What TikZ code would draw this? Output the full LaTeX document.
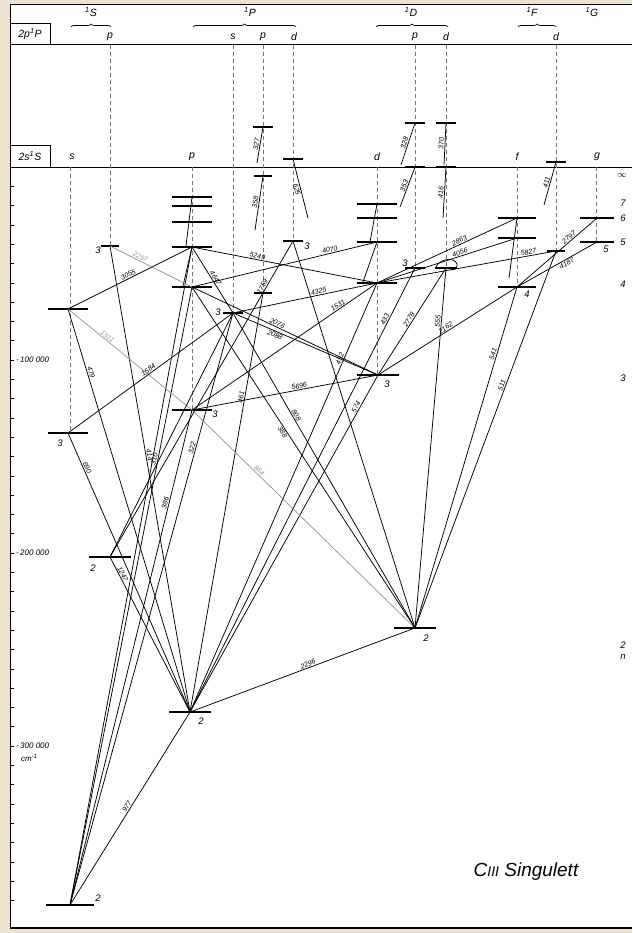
\documentclass[tikz,border=0pt]{standalone}
\usepackage{fontspec}
\setmainfont{Liberation Sans}
\usetikzlibrary{decorations.pathreplacing}

\definecolor{paper}{RGB}{236,226,210}

% level bar: name, x, y, half width
\newcommand{\lev}[4]{%
  \coordinate (#1) at (#2,#3);
  \draw[level] (#2-#4,#3) -- (#2+#4,#3);}

\begin{document}
\begin{tikzpicture}[x=1pt, y=-1pt,
  level/.style={line width=1.8pt},
  trans/.style={line width=0.75pt},
  faint/.style={line width=0.75pt, black!40},
  guide/.style={line width=0.6pt, black!55, dash pattern=on 4pt off 3pt},
  wl/.style={font=\fontsize{7}{7}\selectfont\itshape, sloped, above, inner sep=0.8pt},
  nlab/.style={font=\fontsize{9.5}{9.5}\selectfont\itshape, inner sep=0pt},
  hlab/.style={font=\fontsize{10.5}{10.5}\selectfont\itshape, inner sep=0pt},
  axlab/.style={font=\fontsize{8}{8}\selectfont\itshape, anchor=west, inner sep=0pt},
  brc/.style={decorate, decoration={brace, amplitude=3pt}, line width=0.7pt}
]
\useasboundingbox (0,0) rectangle (632,933);
\fill[paper] (0,0) rectangle (632,933);
\fill[white] (10,4) rectangle (632,928);
\draw[line width=0.8pt] (632,4) -- (10,4) -- (10,928);
\draw[line width=1.4pt] (10,928) -- (632,928);

% header rows
\draw[line width=1pt] (10,45) -- (632,45);
\draw[line width=0.8pt] (10,23) -- (50,23) -- (50,45);
\node[hlab] (hp) at (30,34) {2p\textsuperscript{1}P};
\draw[line width=0.7pt] (10,167) -- (632,167);
\draw[line width=0.8pt] (10,145) -- (50,145) -- (50,167);
\node[hlab] (hs) at (30,156) {2s\textsuperscript{1}S};

% terms and braces
\node[hlab] (tS) at (91,12) {\textsuperscript{1}S};
\draw[brc] (71,27) -- (111,27);
\node[hlab] (tP) at (250,12) {\textsuperscript{1}P};
\draw[brc] (193,27) -- (296,27);
\node[hlab] (tD) at (411,12) {\textsuperscript{1}D};
\draw[brc] (376,27) -- (448,27);
\node[hlab] (tF) at (532,12) {\textsuperscript{1}F};
\draw[brc] (518,27) -- (556,27);
\node[hlab] (tG) at (592,12) {\textsuperscript{1}G};

% column letters
\foreach \cx/\cl in {110/p, 233/s, 263/p, 294/d, 415/p, 446/d, 556/d}
  \node[hlab] at (\cx,37) {\cl};
\foreach \cx/\cl in {72/s, 192/p, 377/d, 517/f, 597/g}
  \node[hlab] at (\cx,157) {\cl};

% dashed columns
\foreach \cx/\ta/\tb in {70/167/433, 110/45/246, 192/167/410, 233/45/313,
    263/45/293, 293/45/241, 377/167/375, 415/45/268, 446/45/268,
    517/167/287, 556/45/251, 596/167/242}
  \draw[guide] (\cx,\ta) -- (\cx,\tb);

% energy scale
\foreach \i in {0,...,38}
  \draw[line width=0.6pt] (10,167+19.3*\i) -- (14,167+19.3*\i);
\node[axlab] (a1) at (16,360) {-\,100 000};
\node[axlab] (a2) at (16,553) {-\,200 000};
\node[axlab] (a3) at (16,746) {-\,300 000};
\node[axlab] (a4) at (21,758) {cm\textsuperscript{-1}};

% n scale
\node[nlab] (ninf) at (622,176) {$\infty$};
\foreach \ny/\nl in {203/7, 218/6, 242/5, 284/4, 378/3, 645/2}
  \node[nlab] at (623,\ny) {\nl};
\node[nlab] (nn) at (623,657) {n};

% levels
\lev{S2}{70}{905}{24}
\lev{S3}{68}{433}{20}
\lev{S4}{68}{309}{20}
\lev{Sp2}{110}{557}{21}
\lev{Sp3}{110}{246}{9}
\lev{P2}{190}{712}{21}
\lev{P3}{192}{410}{20}
\lev{P4}{192}{287}{20}
\lev{P5}{192}{247}{20}
\lev{P6}{192}{222}{20}
\lev{P7}{192}{206}{20}
\lev{P8}{192}{197}{20}
\lev{Ps3}{233}{313}{10}
\lev{Pp3}{263}{293}{9}
\lev{Pp4}{263}{176}{9}
\lev{Pp5}{263}{127}{10}
\lev{Pd3}{293}{241}{10}
\lev{Pd4}{293}{159}{10}
\lev{D3}{378}{375}{21}
\lev{D4}{377}{283}{20}
\lev{D5}{377}{242}{20}
\lev{D6}{377}{218}{20}
\lev{D7}{377}{204}{20}
\lev{Dp2}{415}{628}{21}
\lev{Dp3}{415}{268}{10}
\lev{Dp4}{415}{167}{10}
\lev{Dp5}{415}{123}{10}
\lev{Dd3}{446}{268}{11}
\lev{Dd4}{446}{167}{10}
\lev{Dd5}{446}{123}{10}
\lev{F4}{517}{287}{19}
\lev{F5}{517}{238}{19}
\lev{F6}{517}{218}{19}
\lev{Fd3}{556}{251}{9}
\lev{Fd4}{556}{162}{10}
\lev{G5}{597}{242}{17}
\lev{G6}{597}{218}{17}

% level numbers
\node[nlab] at (98,898) {2};
\node[nlab] at (60,443) {3};
\node[nlab] at (93,568) {2};
\node[nlab] at (98,250) {3};
\node[nlab] at (201,721) {2};
\node[nlab] at (215,414) {3};
\node[nlab] at (218,312) {3};
\node[nlab] at (307,246) {3};
\node[nlab] at (387,384) {3};
\node[nlab] at (405,263) {3};
\node[nlab] at (426,638) {2};
\node[nlab] at (527,294) {4};
\node[nlab] at (606,249) {5};
\draw[trans] (436,267) to[out=70,in=110] (457,264) to[out=-70,in=0] (451,270);

% free ends of short lines
\coordinate (p5t) at (186,246);
\coordinate (p4t) at (183,286);
\coordinate (d5t) at (370,242);
\coordinate (d4t) at (363,282);
\coordinate (f4t) at (509,278);
\coordinate (pp5e) at (257,163);
\coordinate (pp4e) at (255,230);
\coordinate (pd4e) at (308,218);
\coordinate (dp5e) at (401,165);
\coordinate (dd5e) at (444,165);
\coordinate (dp4e) at (400,207);
\coordinate (dd4e) at (443,218);
\coordinate (fd4e) at (544,205);

% short lines
\draw[trans] (P8) -- (p5t);
\draw[trans] (P5) -- (p4t);
\draw[trans] (D7) -- (d5t);
\draw[trans] (D5) -- (d4t);
\draw[trans] (F6) -- (f4t);
\draw[trans] (Pp5) -- (pp5e) node[wl, midway] {327};
\draw[trans] (Pp4) -- (pp4e) node[wl, midway] {358};
\draw[trans] (Pd4) -- (pd4e) node[wl, midway, below] {625};
\draw[trans] (Dp5) -- (dp5e) node[wl, midway] {328};
\draw[trans] (Dd5) -- (dd5e) node[wl, midway] {370};
\draw[trans] (Dp4) -- (dp4e) node[wl, midway] {353};
\draw[trans] (Dd4) -- (dd4e) node[wl, midway] {416};
\draw[trans] (Fd4) -- (fd4e) node[wl, midway] {411};

% transitions from the ground level
\draw[trans] (S2) -- (P2) node[wl, pos=.5] {977};
\draw[trans] (S2) -- (P3) node[wl, pos=.81] {386};
\draw[trans] (S2) -- (P4) node[wl, pos=.72] {310};
\draw[trans] (S2) -- (P5);
\draw[trans] (S2) -- (Ps3) node[wl, pos=.77] {322};

% transitions to 2s2p
\draw[trans] (P2) -- (Sp2) node[wl, pos=.88] {1247};
\draw[trans] (P2) -- (S3) node[wl, pos=.87] {690};
\draw[trans] (P2) -- (S4) node[wl, pos=.84] {479};
\draw[trans] (P2) -- (Sp3) node[wl, pos=.55] {414};
\draw[trans] (P2) -- (Pp3) node[wl, pos=.75] {461};
\draw[trans] (P2) -- (D4) node[wl, pos=.82] {452};
\draw[trans] (P2) -- (Dp3) node[wl, pos=.88] {433};
\draw[trans] (P2) -- (D3) node[wl, pos=.9] {574};
\draw[trans] (P2) -- (Dp2) node[wl, pos=.53] {2296};

% transitions to 2p2 1D
\draw[faint] (P3) -- (Dp2) node[wl, pos=.29] {884};
\draw[faint] (S4) -- (P3) node[wl, pos=.3] {1911};
\draw[trans] (Ps3) -- (Dp2) node[wl, pos=.33] {808};
\draw[trans] (P4) -- (Dp2) node[wl, pos=.42, below] {388};
\draw[trans] (Pd3) -- (Dp2);
\draw[trans] (Dd3) -- (Dp2) node[wl, pos=.15] {555};
\draw[trans] (F4) -- (Dp2) node[wl, pos=.2] {541};
\draw[trans] (Fd3) -- (Dp2) node[wl, pos=.36] {511};

% transitions to 2p2 1S
\draw[trans] (Sp2) -- (Ps3);
\draw[trans] (Sp2) -- (Pd3) node[wl, pos=.85] {1759};

% upper transitions
\draw[trans] (S3) -- (Ps3) node[wl, pos=.5] {1584};
\draw[trans] (S4) -- (P5) node[wl, pos=.5] {3055};
\draw[faint] (Sp3) -- (P4) node[wl, pos=.35] {2297};
\draw[trans] (P5) -- (Ps3) node[wl, pos=.5] {4647};
\draw[trans] (P5) -- (D4) node[wl, pos=.35] {5249};
\draw[trans] (P4) -- (D5) node[wl, pos=.75] {4070};
\draw[trans] (Ps3) -- (D4) node[wl, pos=.6] {4325};
\draw[trans] (P3) -- (D4) node[wl, pos=.8] {1531};
\draw[trans] (P4) -- (D3) node[wl, pos=.45] {2076};
\draw[trans] (Ps3) -- (D3) node[wl, pos=.3, below] {2088};
\draw[trans] (P3) -- (D3) node[wl, pos=.58] {5696};
\draw[trans] (Dd3) -- (D3) node[wl, pos=.5] {2778};
\draw[trans] (D3) -- (F4) node[wl, pos=.5] {2162};
\draw[trans] (D4) -- (F5) node[wl, pos=.6] {4056};
\draw[trans] (D4) -- (F6) node[wl, pos=.6] {2863};
\draw[trans] (D4) -- (Fd3) node[wl, pos=.85] {5827};
\draw[trans] (F4) -- (G5) node[wl, pos=.6, below] {4187};
\draw[trans] (F4) -- (G6) node[wl, pos=.68] {2797};

% title
\node[font=\fontsize{19}{19}\selectfont\itshape] (title) at (526,872)
  {C{\fontsize{14}{14}\selectfont III} Singulett};
\end{tikzpicture}
\end{document}
